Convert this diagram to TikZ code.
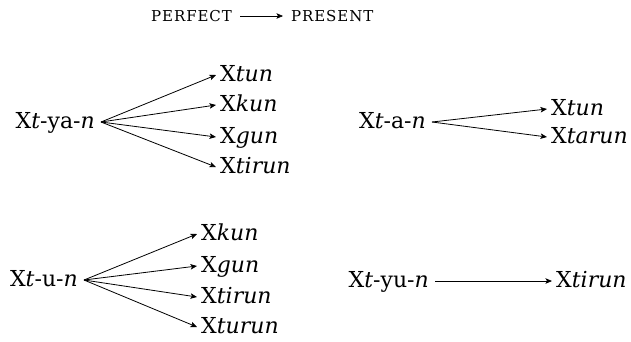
\documentclass[tikz,border=0pt]{standalone}
\usepackage{fontspec}
\setmainfont{DejaVu Serif}
\usetikzlibrary{arrows.meta}
\begin{document}
\begin{tikzpicture}[x=1pt,y=-1pt,
  lbl/.style={inner ysep=0pt, text height=12pt, text depth=0pt, font=\fontsize{22}{26}\selectfont},
  src/.style={lbl, anchor=east, inner xsep=6pt},
  tgt/.style={lbl, anchor=west, inner xsep=4pt},
  ttl/.style={inner xsep=8pt, inner ysep=0pt, text height=10pt, text depth=0pt, font=\fontsize{15}{17}\selectfont\addfontfeatures{LetterSpace=6}},
  arr/.style={line width=0.8pt, -{Stealth[length=6.5pt,width=5.5pt,inset=1.5pt]}},
]
\useasboundingbox (0,0) rectangle (631,341);
% title
\node[ttl, anchor=east] (perf) at (240,16) {PERFECT};
\node[ttl, anchor=west] (pres) at (283,16) {PRESENT};
\draw[arr, line width=0.6pt] (perf) -- (pres);
% group 1
\node[src] (s1) at (101,122) {X\textit{t}-ya-\textit{n}};
\node[tgt] (a1) at (216,75) {X\textit{tun}};
\node[tgt] (a2) at (216,105) {X\textit{kun}};
\node[tgt] (a3) at (216,137) {X\textit{gun}};
\node[tgt] (a4) at (216,167) {X\textit{tirun}};
\foreach \t in {a1,a2,a3,a4} \draw[arr] (s1.east) -- (\t.west);
% group 2
\node[src] (s2) at (432,122) {X\textit{t}-a-\textit{n}};
\node[tgt] (b1) at (547,109) {X\textit{tun}};
\node[tgt] (b2) at (547,137) {X\textit{tarun}};
\foreach \t in {b1,b2} \draw[arr] (s2.east) -- (\t.west);
% group 3
\node[src] (s3) at (84,280) {X\textit{t}-u-\textit{n}};
\node[tgt] (c1) at (197,234) {X\textit{kun}};
\node[tgt] (c2) at (197,266) {X\textit{gun}};
\node[tgt] (c3) at (197,297) {X\textit{tirun}};
\node[tgt] (c4) at (197,327) {X\textit{turun}};
\foreach \t in {c1,c2,c3,c4} \draw[arr] (s3.east) -- (\t.west);
% group 4
\node[src] (s4) at (435,281) {X\textit{t}-yu-\textit{n}};
\node[tgt] (d1) at (552,281) {X\textit{tirun}};
\draw[arr] (s4.east) -- (d1.west);
\end{tikzpicture}
\end{document}
